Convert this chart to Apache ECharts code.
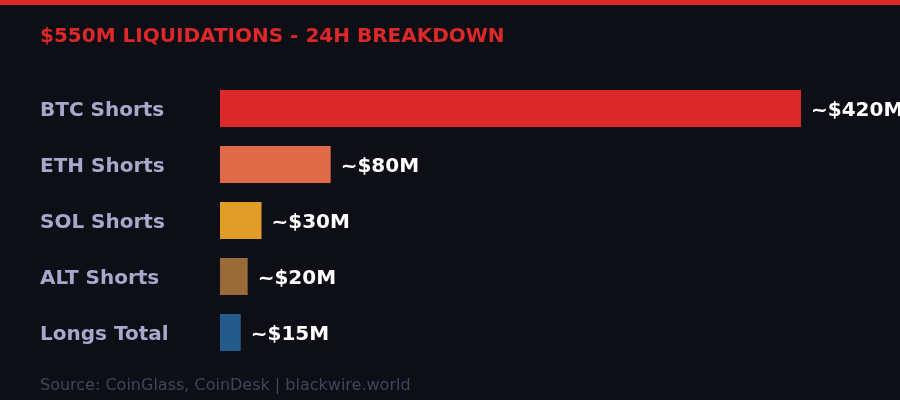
<!DOCTYPE html>
<html>
<head>
<meta charset="utf-8">
<script src="https://cdn.jsdelivr.net/npm/echarts@6/dist/echarts.min.js"></script>
<style>
html,body{margin:0;padding:0;background:#0d0e16;}
#chart{width:900px;height:400px;}
</style>
</head>
<body>
<div id="chart"></div>
<script>
const categories = ['BTC Shorts', 'ETH Shorts', 'SOL Shorts', 'ALT Shorts', 'Longs Total'];
const values = [420, 80, 30, 20, 15];
const valueLabels = ['~$420M', '~$80M', '~$30M', '~$20M', '~$15M'];
const barColors = ['#dc2828', '#e06b48', '#e09e28', '#9a6a38', '#245a8c'];
const titleText = '$550M LIQUIDATIONS - 24H BREAKDOWN';
const sourceText = 'Source: CoinGlass, CoinDesk | blackwire.world';

const FONT = 'DejaVu Sans';
const chart = echarts.init(document.getElementById('chart'), null, {renderer: 'canvas'});
chart.setOption({
  backgroundColor: '#0d0e16',
  animation: false,
  title: {
    text: titleText,
    left: 40,
    top: 27,
    padding: 0,
    textStyle: {color: '#dc2828', fontFamily: FONT, fontWeight: 'bold', fontSize: 20}
  },
  graphic: [
    {type: 'rect', left: 0, top: 0, shape: {x: 0, y: 0, width: 900, height: 5}, style: {fill: '#dc2828'}, silent: true},
    {type: 'text', left: 40, top: 378, style: {text: sourceText, fill: '#44445a', font: '16px "DejaVu Sans"'}}
  ],
  grid: {left: 220, right: 99, top: 80.5, bottom: 39.5, containLabel: false},
  xAxis: {
    type: 'value', min: 0, max: 420, show: false
  },
  yAxis: {
    type: 'category',
    data: categories,
    inverse: true,
    axisLine: {show: false},
    axisTick: {show: false},
    splitLine: {show: false},
    axisLabel: {
      align: 'left',
      verticalAlign: 'top',
      lineHeight: 4,
      margin: 180,
      color: '#a8a8cc',
      fontFamily: FONT,
      fontWeight: 'bold',
      fontSize: 20
    }
  },
  series: [{
    type: 'bar',
    barWidth: 37,
    data: values.map((v, i) => ({value: v, itemStyle: {color: barColors[i]}})),
    label: {
      show: true,
      position: 'right',
      distance: 10,
      offset: [0, 2],
      color: '#ffffff',
      fontFamily: FONT,
      fontWeight: 'bold',
      fontSize: 20,
      formatter: p => valueLabels[p.dataIndex]
    }
  }]
});
</script>
</body>
</html>
